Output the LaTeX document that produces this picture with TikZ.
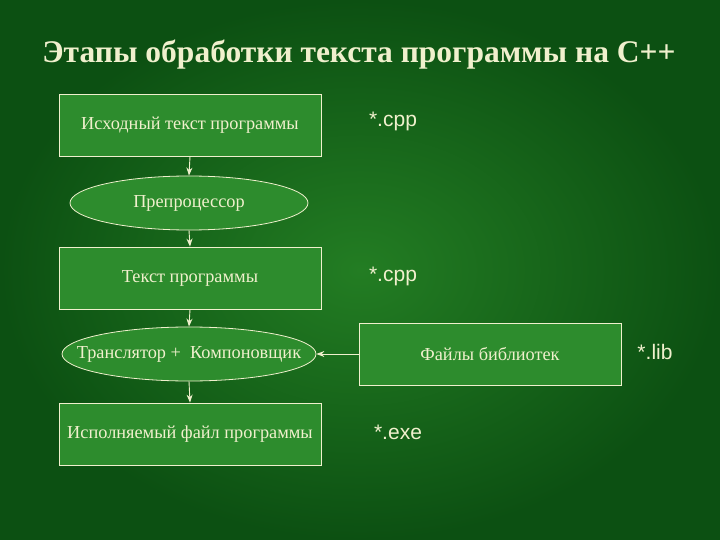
\documentclass[tikz,border=0pt]{standalone}
\usepackage{fontspec}
\setmainfont{Liberation Serif}
\newfontfamily\arialf{Liberation Sans}
\usetikzlibrary{shapes.geometric,arrows.meta}
\definecolor{bgA}{RGB}{12,80,18}
\definecolor{bgB}{RGB}{35,125,35}
\definecolor{boxg}{RGB}{45,140,45}
\definecolor{cream}{RGB}{240,240,205}
\begin{document}
\begin{tikzpicture}[x=1pt,y=-1pt,
  box/.style={draw=cream,line width=0.8pt,fill=boxg,minimum width=262pt,minimum height=62pt,inner sep=0pt,font=\fontsize{18.3}{21}\selectfont,text=cream},
  ell/.style={ellipse,draw=cream,line width=0.8pt,fill=boxg,inner xsep=-60pt,inner ysep=0pt,font=\fontsize{18.3}{21}\selectfont,text=cream},
  ext/.style={font=\arialf\fontsize{21}{24}\selectfont,text=cream},
  con/.style={draw=cream,line width=0.9pt,-{Stealth[length=8pt,width=6pt]}}]
\useasboundingbox (0,0) rectangle (720,540);
\shade[inner color=bgB,outer color=bgA] (0,0) rectangle (720,540);
\node[text=cream,font=\bfseries\fontsize{31.5}{36}\selectfont] (t) at (359,55) {Этапы обработки текста программы на С++};
\node[box] (b1) at (190,125) {Исходный текст программы};
\node[ell,minimum width=238pt,minimum height=54pt] (e1) at (189,203) {Препроцессор};
\node[box] (b2) at (190,278) {Текст программы};
\node[ell,minimum width=254pt,minimum height=54pt] (e2) at (189,354) {Транслятор + \ Компоновщик};
\node[box] (b3) at (190,434) {Исполняемый файл программы};
\node[box] (lib) at (490,354) {Файлы библиотек};
\node[ext] (c1) at (393,121) {*.cpp};
\node[ext] (c2) at (393,276) {*.cpp};
\node[ext] (c3) at (655,352) {*.lib};
\node[ext] (c4) at (398,432) {*.exe};
\draw[con] (b1.south) -- (e1.north);
\draw[con] (e1.south) -- (b2.north);
\draw[con] (b2.south) -- (e2.north);
\draw[con] (e2.south) -- (b3.north);
\draw[con] (lib.west) -- (e2.east);
\end{tikzpicture}
\end{document}
